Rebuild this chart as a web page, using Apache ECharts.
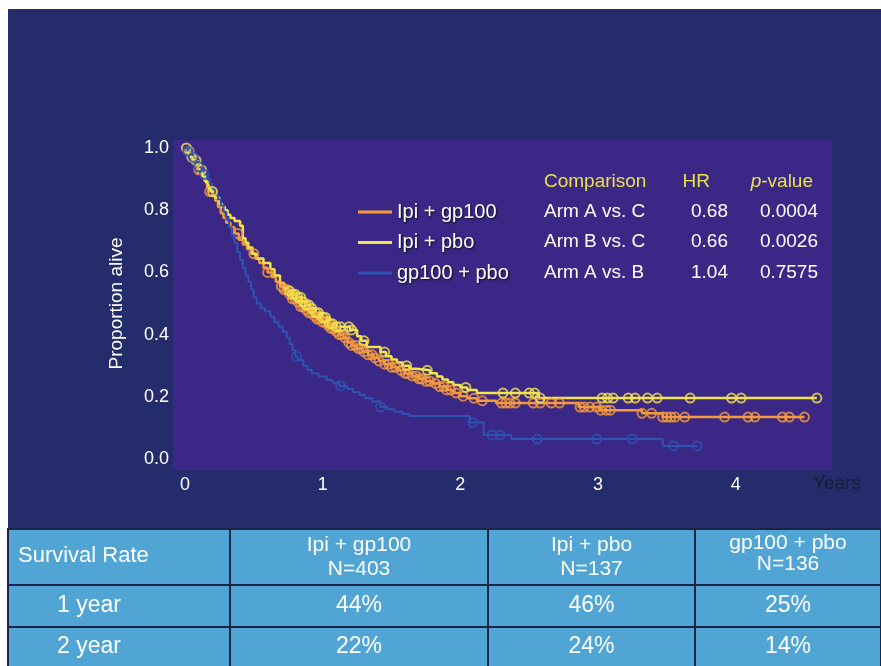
<!DOCTYPE html>
<html>
<head>
<meta charset="utf-8">
<script src="https://cdn.jsdelivr.net/npm/echarts@6/dist/echarts.min.js"></script>
<style>
html,body{margin:0;padding:0;background:#ffffff;}
#chart{width:881px;height:666px;}
</style>
</head>
<body>
<div id="chart"></div>
<script>
// ---------- DATA ----------
const armNames = ['Ipi + gp100', 'Ipi + pbo', 'gp100 + pbo'];

// Ipi + gp100 (orange) step curve
const orangeT = [0,0.02,0.04,0.06,0.08,0.10,0.12,0.14,0.16,0.18,0.20,0.22,0.24,0.26,0.28,0.30,0.33,0.36,0.39,0.42,0.45,0.48,0.51,0.54,0.57,0.60,0.63,0.66,0.69,0.72,0.75,0.78,0.81,0.84,0.87,0.90,0.93,0.96,1.00,1.03,1.06,1.09,1.12,1.15,1.18,1.21,1.25,1.29,1.33,1.37,1.41,1.45,1.50,1.55,1.60,1.65,1.70,1.75,1.80,1.85,1.90,1.95,2.00,2.05,2.12,2.26,2.86,3.01,3.32,3.47,4.50];
const orangeS = [1.0,0.99,0.975,0.96,0.945,0.93,0.91,0.895,0.875,0.86,0.845,0.83,0.81,0.79,0.775,0.76,0.745,0.725,0.705,0.69,0.675,0.66,0.645,0.63,0.615,0.60,0.585,0.57,0.555,0.545,0.53,0.515,0.505,0.49,0.48,0.47,0.46,0.45,0.44,0.43,0.42,0.41,0.40,0.39,0.375,0.365,0.355,0.345,0.335,0.325,0.315,0.305,0.295,0.285,0.275,0.267,0.258,0.25,0.243,0.233,0.222,0.212,0.202,0.195,0.187,0.18,0.167,0.157,0.147,0.135,0.135];
const orangeCensor = [0.03,0.10,0.18,0.385,0.50,0.60,0.70,0.72,0.74,0.76,0.78,0.80,0.82,0.84,0.86,0.88,0.90,0.92,0.94,0.96,0.98,1.00,1.02,1.04,1.06,1.08,1.10,1.12,1.14,1.16,1.19,1.21,1.24,1.26,1.28,1.30,1.33,1.36,1.38,1.41,1.45,1.48,1.50,1.53,1.57,1.60,1.62,1.65,1.68,1.70,1.72,1.75,1.78,1.82,1.85,1.88,1.90,1.93,1.97,2.02,2.10,2.16,2.30,2.33,2.36,2.40,2.53,2.58,2.66,2.72,2.87,2.90,2.94,2.99,3.02,3.06,3.09,3.32,3.39,3.47,3.50,3.53,3.56,3.63,3.92,4.09,4.14,4.34,4.39,4.50];

// Ipi + pbo (yellow) step curve
const yellowT = [0,0.02,0.04,0.06,0.09,0.11,0.13,0.15,0.17,0.19,0.22,0.25,0.27,0.29,0.31,0.33,0.36,0.40,0.42,0.44,0.46,0.49,0.52,0.57,0.62,0.65,0.69,0.72,0.75,0.78,0.81,0.85,0.88,0.91,0.95,1.00,1.05,1.10,1.20,1.25,1.28,1.32,1.42,1.46,1.50,1.54,1.58,1.63,1.68,1.78,1.83,1.87,1.91,1.95,2.00,2.05,2.12,2.57,4.59];
const yellowS = [1.0,0.985,0.97,0.96,0.95,0.93,0.91,0.89,0.87,0.86,0.84,0.82,0.81,0.80,0.785,0.775,0.765,0.75,0.71,0.695,0.68,0.66,0.645,0.63,0.61,0.59,0.565,0.55,0.54,0.53,0.52,0.505,0.495,0.485,0.47,0.455,0.435,0.425,0.415,0.395,0.38,0.36,0.344,0.33,0.32,0.31,0.30,0.29,0.285,0.276,0.265,0.256,0.247,0.238,0.23,0.222,0.212,0.196,0.196];
const yellowCensor = [0.01,0.05,0.08,0.12,0.20,0.76,0.78,0.80,0.82,0.84,0.86,0.88,0.90,0.92,0.95,0.97,1.00,1.02,1.05,1.07,1.10,1.13,1.19,1.21,1.30,1.45,1.61,1.76,2.04,2.31,2.40,2.50,2.54,2.58,3.03,3.07,3.11,3.22,3.27,3.36,3.43,3.67,3.97,4.04,4.59];

// gp100 + pbo (blue) step curve
const blueT = [0,0.02,0.04,0.06,0.08,0.10,0.12,0.14,0.16,0.18,0.20,0.22,0.24,0.26,0.28,0.30,0.32,0.34,0.36,0.38,0.40,0.42,0.44,0.46,0.48,0.50,0.52,0.55,0.58,0.62,0.65,0.68,0.71,0.74,0.76,0.78,0.80,0.82,0.86,0.89,0.92,0.97,1.03,1.07,1.12,1.18,1.22,1.27,1.31,1.36,1.42,1.47,1.52,1.58,1.63,2.07,2.17,2.37,3.47,3.72];
const blueS = [1.0,0.99,0.98,0.97,0.955,0.94,0.93,0.915,0.90,0.885,0.87,0.85,0.835,0.815,0.795,0.77,0.745,0.72,0.695,0.665,0.64,0.615,0.59,0.57,0.545,0.52,0.50,0.485,0.475,0.457,0.44,0.425,0.41,0.39,0.37,0.35,0.33,0.318,0.30,0.286,0.276,0.265,0.254,0.245,0.235,0.225,0.215,0.206,0.195,0.185,0.167,0.16,0.152,0.145,0.138,0.117,0.077,0.064,0.042,0.042];
const blueCensor = [0.02,0.06,0.10,0.14,0.81,1.13,1.42,2.09,2.23,2.29,2.56,2.99,3.25,3.55,3.72];

const xTicks = [0,1,2,3,4];
const yTicks = [0,0.2,0.4,0.6,0.8,1.0];

// comparison table
const compHeader = ['Comparison', 'HR', 'p-value'];
const compRows = ['Arm A vs. C', 'Arm B vs. C', 'Arm A vs. B'];
const compHR = ['0.68', '0.66', '1.04'];
const compP = ['0.0004', '0.0026', '0.7575'];

// survival table
const survHeader = 'Survival Rate';
const survNs = ['N=403', 'N=137', 'N=136'];
const survRowLabels = ['1 year', '2 year'];
const surv1yr = ['44%', '46%', '25%'];
const surv2yr = ['22%', '24%', '14%'];

// ---------- STYLE ----------
const colors = ['#f59b3c', '#f2e54a', '#2e53b3'];
const FONT = 'Liberation Sans, Arial, sans-serif';

function stepData(ts, ss) { return ts.map((t, i) => [t, ss[i]]); }
function survAt(t, ts, ss) {
  let v = ss[0];
  for (let i = 0; i < ts.length; i++) if (ts[i] <= t) v = ss[i];
  return v;
}
function censorData(cs, ts, ss) { return cs.map(t => [t, survAt(t, ts, ss)]); }

const curves = [
  [orangeT, orangeS, orangeCensor],
  [yellowT, yellowS, yellowCensor],
  [blueT, blueS, blueCensor]
];

const series = [];
const drawOrder = [2, 0, 1];
drawOrder.forEach(k => {
  const [ts, ss, cs] = curves[k];
  series.push({
    name: armNames[k], type: 'line', step: 'end', data: stepData(ts, ss),
    showSymbol: false, symbol: 'none', color: colors[k],
    lineStyle: { width: k === 2 ? 2 : 2.5, color: colors[k] }, z: 2 + k,
    animation: false
  });
  series.push({
    name: armNames[k] + ' censored', type: 'scatter', data: censorData(cs, ts, ss),
    symbol: 'circle', symbolSize: 9, color: colors[k],
    itemStyle: { borderWidth: 2, borderColor: colors[k], color: 'rgba(0,0,0,0)' },
    z: 3 + k, animation: false
  });
});

// graphics: backgrounds, comparison table, survival table
const graphics = [];
graphics.push({ type: 'rect', shape: { x: 8, y: 9, width: 873, height: 520 }, style: { fill: '#242c6b' }, z: -100, silent: true });
graphics.push({ type: 'rect', shape: { x: 173, y: 140, width: 659, height: 330 }, style: { fill: '#3b2785' }, z: -99, silent: true });
graphics.push({ type: 'text', x: 813, y: 484, style: { text: 'Years', fill: '#1b1d33', font: '19px ' + FONT, textAlign: 'left', textVerticalAlign: 'middle' } });

// comparison table texts
const compColX = [544, 728, 818];
const compRowY = [212, 242, 273];
graphics.push({ type: 'text', x: compColX[0], y: 182, style: { text: compHeader[0], fill: '#e9e14c', font: '19px ' + FONT, textAlign: 'left', textVerticalAlign: 'middle' } });
graphics.push({ type: 'text', x: 710, y: 182, style: { text: compHeader[1], fill: '#e9e14c', font: '19px ' + FONT, textAlign: 'right', textVerticalAlign: 'middle' } });
graphics.push({ type: 'text', x: 813, y: 182, style: { text: '{i|p}-value', rich: { i: { fontStyle: 'italic', fontSize: 19, fontFamily: FONT, fill: '#e9e14c' } }, fill: '#e9e14c', font: '19px ' + FONT, textAlign: 'right', textVerticalAlign: 'middle' } });
compRows.forEach((r, i) => {
  graphics.push({ type: 'text', x: compColX[0], y: compRowY[i], style: { text: r, fill: '#ffffff', font: '19px ' + FONT, textAlign: 'left', textVerticalAlign: 'middle' } });
  graphics.push({ type: 'text', x: compColX[1], y: compRowY[i], style: { text: compHR[i], fill: '#ffffff', font: '19px ' + FONT, textAlign: 'right', textVerticalAlign: 'middle' } });
  graphics.push({ type: 'text', x: compColX[2], y: compRowY[i], style: { text: compP[i], fill: '#ffffff', font: '19px ' + FONT, textAlign: 'right', textVerticalAlign: 'middle' } });
});

// survival table
const colEdges = [8, 230, 488, 695, 881];
const rowEdges = [529, 585, 627, 668];
for (let r = 0; r < 3; r++) {
  for (let c = 0; c < 4; c++) {
    graphics.push({ type: 'rect', shape: { x: colEdges[c], y: rowEdges[r], width: colEdges[c + 1] - colEdges[c], height: rowEdges[r + 1] - rowEdges[r] },
      style: { fill: '#50a5d5', stroke: '#1c2445', lineWidth: 2 }, z: -50, silent: true });
  }
}
const hFont = '21px ' + FONT;
const vFont = '23px ' + FONT;
graphics.push({ type: 'text', x: 18, y: 556, style: { text: survHeader, fill: '#fff', font: '22px ' + FONT, textAlign: 'left', textVerticalAlign: 'middle' } });
for (let c = 0; c < 3; c++) {
  const cx = (colEdges[c + 1] + colEdges[c + 2]) / 2;
  const tight = c === 2;
  graphics.push({ type: 'text', x: cx, y: tight ? 543 : 545, style: { text: armNames[c], fill: '#fff', font: hFont, textAlign: 'center', textVerticalAlign: 'middle' } });
  graphics.push({ type: 'text', x: cx, y: tight ? 564 : 569, style: { text: survNs[c], fill: '#fff', font: hFont, textAlign: 'center', textVerticalAlign: 'middle' } });
  graphics.push({ type: 'text', x: cx, y: 606, style: { text: surv1yr[c], fill: '#fff', font: vFont, textAlign: 'center', textVerticalAlign: 'middle' } });
  graphics.push({ type: 'text', x: cx, y: 647, style: { text: surv2yr[c], fill: '#fff', font: vFont, textAlign: 'center', textVerticalAlign: 'middle' } });
}
survRowLabels.forEach((l, i) => {
  graphics.push({ type: 'text', x: 57, y: i === 0 ? 606 : 647, style: { text: l, fill: '#fff', font: vFont, textAlign: 'left', textVerticalAlign: 'middle' } });
});

const chart = echarts.init(document.getElementById('chart'), null, { renderer: 'canvas' });
chart.setOption({
  backgroundColor: '#ffffff',
  animation: false,
  grid: { left: 185, right: 49, top: 148, bottom: 207, containLabel: false },
  legend: {
    data: armNames.map(n => ({ name: n, icon: 'rect' })),
    orient: 'vertical', left: 358, top: 202, padding: 0,
    itemWidth: 34, itemHeight: 3, itemGap: 10.5,
    textStyle: { color: '#ffffff', fontSize: 20, fontFamily: FONT, lineHeight: 20,
      textShadowColor: 'rgba(0,0,0,0.8)', textShadowBlur: 2, textShadowOffsetX: 1, textShadowOffsetY: 1 },
    selectedMode: false
  },
  xAxis: {
    type: 'value', min: 0, max: 4.7, interval: 1,
    axisLine: { show: false }, axisTick: { show: false }, splitLine: { show: false },
    axisLabel: { margin: 17, fontSize: 18, fontFamily: FONT, showMaxLabel: false,
      color: (v) => (v === 0 ? '#1b1d33' : '#ffffff'),
      formatter: (v) => (xTicks.indexOf(v) >= 0 ? String(v) : '') }
  },
  yAxis: {
    type: 'value', min: 0, max: 1, interval: 0.2,
    axisLine: { show: false }, axisTick: { show: false }, splitLine: { show: false },
    axisLabel: { margin: 16, fontSize: 18, fontFamily: FONT, color: '#ffffff',
      formatter: (v) => (yTicks.indexOf(Math.round(v * 10) / 10) >= 0 ? v.toFixed(1) : '') },
    name: 'Proportion alive', nameLocation: 'middle', nameGap: 59, nameRotate: 90,
    nameTextStyle: { color: '#ffffff', fontSize: 19, fontFamily: FONT }
  },
  graphic: graphics,
  series: series
});
</script>
</body>
</html>
